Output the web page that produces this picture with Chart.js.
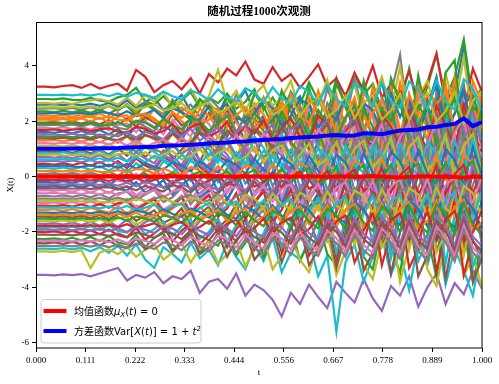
<!DOCTYPE html>
<html><head><meta charset="utf-8">
<script src="https://cdn.jsdelivr.net/npm/chart.js@4/dist/chart.umd.min.js"></script>
<style>html,body{margin:0;padding:0;background:#fff}canvas{display:block}</style>
</head><body>
<canvas id="c" width="499" height="384"></canvas>
<script>
const titleText = '随机过程1000次观测';
const xTitle = 't';
const yTitle = 'X(t)';
const xTickVals = [0, 0.1111, 0.2222, 0.3333, 0.4444, 0.5556, 0.6667, 0.7778, 0.8889, 1.0];
const xTickLabels = ['0.000','0.111','0.222','0.333','0.444','0.556','0.667','0.778','0.889','1.000'];
const yTickVals = [-6, -4, -2, 0, 2, 4];
const yTickLabels = ['-6','-4','-2','0','2','4'];
const tValues = [0,0.0204,0.0408,0.0612,0.0816,0.1020,0.1224,0.1429,0.1633,0.1837,
0.2041,0.2245,0.2449,0.2653,0.2857,0.3061,0.3265,0.3469,0.3673,0.3878,
0.4082,0.4286,0.4490,0.4694,0.4898,0.5102,0.5306,0.5510,0.5714,0.5918,
0.6122,0.6327,0.6531,0.6735,0.6939,0.7143,0.7347,0.7551,0.7755,0.7959,
0.8163,0.8367,0.8571,0.8776,0.8980,0.9184,0.9388,0.9592,0.9796,1.0];

const meanValues = [0.00,0.00,0.00,0.00,0.00,-0.01,0.00,0.00,0.01,0.00,
0.01,0.00,-0.01,0.01,0.00,0.01,0.00,-0.01,0.01,0.02,
0.01,0.00,-0.01,0.01,0.00,-0.01,0.00,0.01,-0.01,0.00,
0.01,0.00,-0.01,0.00,0.01,-0.01,0.00,0.02,0.00,-0.02,
-0.03,-0.01,0.00,0.01,-0.01,0.00,-0.02,-0.04,0.00,-0.02];
const varValues = [1.00,1.00,1.00,1.00,1.01,1.01,1.01,1.02,1.02,1.03,
1.05,1.06,1.07,1.08,1.11,1.12,1.13,1.15,1.17,1.19,
1.21,1.23,1.26,1.27,1.30,1.32,1.34,1.36,1.39,1.41,
1.43,1.45,1.48,1.50,1.47,1.48,1.56,1.55,1.53,1.60,
1.66,1.68,1.70,1.78,1.80,1.86,1.90,2.10,1.82,1.97];

const path00=[2.60,2.60,2.61,2.58,2.62,2.57,2.63,2.55,2.66,2.52,2.75,2.48,2.70,2.85,2.40,2.62,2.95,2.35,2.78,2.50,2.20,2.95,2.65,3.10,2.30,2.85,2.10,3.05,2.55,2.90,2.00,2.75,3.30,2.25,2.95,1.80,3.10,2.60,3.40,2.05,2.90,1.85,3.35,2.50,3.60,1.70,3.00,4.70,2.40,2.20];
const path01=[-1.20,-1.21,-1.18,-1.24,-1.17,-1.26,-1.13,-1.22,-1.30,-1.08,-1.35,-1.05,-1.28,-0.98,-1.42,-1.15,-0.95,-1.50,-1.10,-1.38,-0.85,-1.55,-1.20,-0.75,-1.45,-1.00,-1.70,-0.90,-1.30,-0.60,-1.65,-1.05,-0.55,-1.80,-1.25,-0.70,-1.95,-1.10,-0.40,-1.50,-2.00,-0.80,-1.40,-0.30,-2.20,-1.00,-0.50,-1.85,-0.90,-2.30];
const path02=[2.80,2.80,2.79,2.82,2.77,2.76,2.84,2.74,2.70,2.86,2.95,3.20,2.72,2.60,2.90,2.55,2.75,3.05,2.50,2.85,2.65,3.00,2.45,2.70,3.15,2.40,2.85,2.30,3.05,2.60,3.40,2.75,2.20,3.55,2.50,3.70,2.95,3.35,2.40,3.10,2.60,3.90,2.30,3.25,4.40,2.80,3.60,4.95,2.70,3.20];
const path03=[3.25,3.25,3.22,3.27,3.30,3.20,3.34,3.18,3.28,3.35,3.10,3.85,3.60,3.05,3.30,3.45,3.15,3.55,3.00,3.70,3.40,3.90,3.65,4.15,3.50,3.35,3.95,3.45,3.70,3.20,3.60,4.05,3.25,3.55,2.90,3.75,3.10,4.00,2.85,3.35,2.95,3.80,2.70,3.40,4.45,2.60,3.30,2.40,3.90,3.05];
const path04=[-3.55,-3.55,-3.57,-3.53,-3.56,-3.52,-3.60,-3.50,-3.40,-3.30,-3.75,-3.55,-3.65,-3.45,-3.85,-3.60,-3.70,-3.40,-4.20,-3.80,-3.70,-4.05,-3.50,-4.30,-3.90,-4.10,-4.45,-5.05,-4.20,-4.60,-3.90,-4.35,-4.75,-3.80,-4.20,-4.55,-3.70,-4.40,-4.85,-3.95,-4.30,-3.60,-4.70,-4.00,-3.50,-4.60,-3.85,-4.25,-3.40,-4.05];
const path05=[0.90,0.91,0.88,0.93,0.86,0.95,0.84,0.97,0.80,1.02,0.75,1.10,0.70,1.05,1.20,0.62,0.98,1.30,0.55,1.15,0.80,1.40,0.45,1.05,0.60,1.50,0.35,1.20,0.85,1.60,0.25,1.35,0.70,1.75,0.10,1.10,1.80,0.40,1.25,-0.05,1.60,0.55,1.95,0.20,1.40,2.10,0.00,1.00,2.30,0.30];
const path06=[-0.50,-0.49,-0.52,-0.47,-0.55,-0.45,-0.58,-0.44,-0.60,-0.40,-0.35,-0.68,-0.45,-0.30,-0.75,-0.55,-0.25,-0.85,-0.40,-0.20,-0.90,-0.60,-0.10,-0.75,-1.05,-0.35,0.05,-0.80,-0.50,-1.15,0.10,-0.65,-1.20,-0.20,0.25,-0.95,-0.45,-1.30,0.30,-0.70,-1.40,-0.15,0.40,-1.10,-0.60,0.55,-1.50,-0.30,0.45,-0.90];
const path07=[2.45,2.45,2.47,2.43,2.48,2.41,2.50,2.40,2.55,2.38,2.62,2.30,2.70,2.45,2.25,2.78,2.35,2.60,2.15,2.85,2.50,2.20,2.95,2.40,2.05,2.75,2.55,1.95,3.05,2.30,2.65,1.90,3.15,2.45,2.00,3.55,2.20,2.80,1.75,3.00,4.40,1.70,3.25,2.60,1.55,2.95,3.40,2.10,1.60,2.75];
const path08=[2.65,2.66,2.63,2.68,2.62,2.70,2.75,2.80,2.72,2.60,2.85,2.55,2.95,2.70,3.05,2.50,2.80,3.15,2.60,2.90,3.85,2.65,3.10,2.40,2.95,3.30,2.55,2.85,3.45,2.30,3.00,2.60,3.50,2.20,2.85,3.30,2.10,2.75,3.60,2.40,3.95,2.05,2.90,3.45,2.20,3.70,2.50,4.30,1.90,3.10];
const path09=[-2.60,-2.60,-2.62,-2.58,-2.63,-2.57,-2.70,-2.55,-2.75,-2.50,-2.85,-2.45,-3.00,-3.30,-2.55,-2.80,-3.10,-2.40,-2.95,-2.65,-3.20,-2.35,-2.90,-3.35,-2.50,-3.05,-2.20,-3.45,-2.75,-3.00,-2.30,-3.60,-2.85,-5.60,-3.10,-2.45,-3.80,-2.90,-2.15,-3.55,-2.70,-4.10,-2.35,-3.20,-1.90,-3.90,-2.60,-3.40,-4.30,-2.50];
const path10=[1.60,1.61,1.58,1.63,1.56,1.65,1.54,1.68,1.52,1.72,1.45,1.80,1.50,1.40,1.85,1.62,1.30,1.95,1.55,1.25,1.90,1.45,2.10,1.20,1.75,2.20,1.35,1.05,2.05,1.60,2.30,1.10,1.85,2.45,0.95,1.70,2.60,1.25,0.85,2.15,1.50,2.75,0.70,1.95,2.90,1.20,0.60,2.50,3.10,1.40];
const path11=[2.20,2.21,2.18,2.23,2.16,2.25,2.14,2.28,2.10,2.30,2.05,2.38,2.00,2.45,2.15,1.90,2.50,2.25,1.85,2.60,2.10,1.80,2.70,2.35,1.70,2.85,2.05,1.60,2.95,2.40,1.75,3.10,2.20,1.50,2.90,2.55,1.40,3.25,2.00,1.65,3.40,2.30,1.30,3.00,2.70,1.20,3.55,1.90,2.60,1.35];
const path12=[-2.25,-2.26,-2.23,-2.28,-2.21,-2.30,-2.18,-2.33,-2.15,-2.38,-2.45,-2.10,-2.55,-2.20,-2.05,-2.65,-2.35,-2.00,-2.75,-2.30,-2.50,-1.85,-2.85,-2.40,-1.80,-2.95,-2.15,-2.60,-1.70,-3.05,-2.35,-1.60,-2.80,-3.20,-2.00,-1.50,-2.90,-3.35,-1.75,-2.45,-3.50,-1.40,-2.70,-2.10,-3.65,-1.30,-2.95,-1.90,-3.80,-2.40];
const path13=[0.45,0.46,0.43,0.48,0.41,0.50,0.39,0.53,0.36,0.56,0.30,0.65,0.40,0.25,0.72,0.50,0.18,0.80,0.35,0.10,0.75,0.55,0.00,0.90,0.30,-0.05,1.00,0.45,0.15,1.10,-0.10,0.60,1.20,0.20,-0.20,0.85,1.30,0.05,-0.35,1.05,0.50,-0.40,1.45,0.25,-0.55,1.20,0.70,-0.60,1.60,0.35];
const path14=[-1.70,-1.71,-1.68,-1.73,-1.66,-1.75,-1.64,-1.78,-1.62,-1.82,-1.55,-1.90,-1.65,-1.48,-1.95,-1.75,-1.40,-2.05,-1.60,-1.35,-2.10,-1.80,-1.25,-2.20,-1.55,-1.20,-2.30,-1.85,-1.10,-2.15,-1.50,-2.45,-1.05,-1.90,-2.55,-1.30,-0.95,-2.40,-1.70,-2.70,-1.00,-2.20,-0.85,-2.80,-1.45,-0.70,-2.95,-1.60,-0.60,-2.50];
const path15=[1.95,1.95,1.97,1.93,1.98,1.91,2.00,1.89,2.03,1.86,2.10,1.80,2.15,1.95,1.75,2.25,1.85,2.05,1.65,2.30,1.90,2.40,1.60,2.15,2.50,1.75,2.05,1.50,2.60,1.85,2.70,1.45,2.25,2.85,1.60,2.00,1.35,2.95,2.40,1.50,3.05,1.75,1.25,2.80,3.20,1.40,2.30,3.30,1.15,2.55];
const path16=[-0.95,-0.96,-0.93,-0.98,-0.92,-1.00,-0.90,-1.03,-0.87,-1.06,-0.80,-1.12,-0.95,-0.75,-1.20,-1.00,-0.68,-1.28,-0.85,-0.60,-1.35,-0.75,-1.10,-0.50,-1.45,-0.90,-0.40,-1.55,-1.05,-0.35,-1.60,-0.70,-1.15,-0.25,-1.75,-0.85,-0.15,-1.40,-1.90,-0.45,-0.10,-1.65,-2.00,-0.55,0.00,-1.30,-2.10,-0.35,-1.80,0.10];
const path17=[0.10,0.10,0.12,0.08,0.13,0.06,0.15,0.04,0.18,0.02,0.25,-0.05,0.20,0.32,-0.10,0.15,0.38,-0.15,0.05,0.45,-0.20,0.30,0.50,-0.25,0.10,0.60,-0.35,0.25,0.70,-0.40,0.05,0.75,-0.50,0.35,0.85,-0.55,0.15,0.95,-0.65,0.40,1.00,-0.70,0.20,1.10,-0.80,0.50,-0.85,1.20,0.25,-0.95];
const path18=[-2.70,-2.70,-2.72,-2.68,-2.73,-2.66,-3.30,-2.75,-2.62,-2.80,-2.55,-2.90,-2.65,-2.45,-3.00,-2.75,-2.40,-3.10,-2.60,-2.35,-3.15,-2.80,-2.30,-3.25,-2.55,-2.20,-3.35,-2.85,-2.15,-3.00,-3.45,-2.40,-2.05,-3.55,-2.70,-1.95,-3.20,-3.70,-2.30,-1.85,-3.80,-2.50,-1.70,-3.35,-3.95,-2.20,-1.60,-3.60,-2.85,-4.00];
const path19=[0.30,0.31,0.28,0.33,0.26,0.35,0.24,0.38,0.21,0.41,0.15,0.48,0.25,0.10,0.55,0.35,0.02,0.62,0.20,-0.05,0.70,0.40,-0.12,0.75,0.15,-0.20,0.85,0.45,-0.25,0.95,0.10,-0.35,1.05,0.50,-0.45,0.20,1.15,-0.55,0.60,1.25,-0.60,0.35,1.35,-0.70,0.05,1.45,-0.80,0.70,1.55,-0.85];
const path20=[-0.20,-0.19,-0.22,-0.17,-0.23,-0.15,-0.26,-0.13,-0.29,-0.10,-0.05,-0.35,-0.15,0.00,-0.42,-0.25,0.08,-0.50,-0.10,0.15,-0.55,-0.30,0.22,-0.65,-0.05,0.30,-0.75,-0.40,0.40,-0.85,-0.15,0.50,-0.95,-0.45,0.60,-1.05,0.00,0.70,-1.15,-0.35,0.80,-1.25,0.10,0.90,-1.35,-0.50,1.00,-1.45,0.20,-1.10];
const path21=[1.30,1.30,1.32,1.28,1.33,1.26,1.35,1.24,1.38,1.21,1.45,1.15,1.50,1.35,1.08,1.55,1.20,1.00,1.62,1.40,0.95,1.70,1.25,0.85,1.80,1.50,0.75,1.90,1.15,0.65,2.00,1.40,0.55,2.10,1.05,0.45,2.20,1.60,0.35,2.30,1.20,0.25,2.40,1.75,0.15,2.50,1.00,0.05,2.60,1.50];
const path22=[2.35,2.35,2.33,2.37,2.32,2.39,2.30,2.42,2.27,2.45,2.55,2.20,2.62,2.40,2.12,2.70,2.30,2.05,2.80,2.45,2.00,2.90,2.25,1.90,3.00,2.55,1.80,3.10,2.35,1.70,3.20,2.15,1.65,3.35,2.60,1.55,3.45,2.25,1.45,3.55,2.70,1.35,3.65,2.05,1.25,3.75,4.20,1.15,2.50,2.20];
const path23=[-2.00,-2.01,-1.98,-2.03,-1.96,-2.05,-1.94,-2.08,-1.91,-2.12,-2.20,-1.85,-2.28,-2.05,-1.78,-2.35,-1.95,-1.70,-2.45,-2.10,-1.65,-2.55,-1.90,-1.55,-2.65,-2.20,-1.45,-2.75,-1.85,-1.35,-2.85,-2.30,-1.25,-2.95,-1.70,-3.10,-2.40,-1.15,-3.20,-2.00,-1.05,-3.30,-2.60,-0.95,-3.45,-1.80,-0.85,-3.55,-2.30,-2.95];
const path24=[0.70,0.71,0.68,0.73,0.66,0.75,0.64,0.78,0.61,0.81,0.55,0.88,0.65,0.48,0.95,0.75,0.40,1.02,0.60,0.32,1.10,0.80,0.25,1.18,0.50,0.18,1.28,0.90,0.10,1.35,0.55,0.00,1.45,0.95,-0.10,1.55,0.45,-0.20,1.65,1.00,-0.30,0.60,1.75,-0.40,1.10,1.85,-0.50,0.40,1.95,-0.60];
const path25=[-1.45,-1.45,-1.47,-1.43,-1.48,-1.41,-1.50,-1.39,-1.53,-1.36,-1.30,-1.60,-1.40,-1.22,-1.68,-1.50,-1.15,-1.75,-1.35,-1.08,-1.85,-1.55,-1.00,-1.95,-1.30,-0.92,-2.05,-1.60,-0.85,-2.15,-1.25,-0.75,-2.25,-1.70,-0.65,-2.35,-1.20,-0.55,-2.45,-1.85,-0.45,-2.55,-1.10,-0.35,-2.65,-1.95,-0.25,-2.75,-1.00,-2.20];
const path26=[1.75,1.76,1.73,1.78,1.71,1.80,1.69,1.83,1.66,1.86,1.92,1.60,1.98,1.80,1.52,2.05,1.70,1.45,2.15,1.90,1.40,2.25,1.65,1.30,2.35,1.95,1.20,2.45,1.55,1.10,2.55,2.00,1.00,2.65,1.45,0.90,2.75,2.10,0.80,2.85,1.35,0.70,2.95,2.20,0.60,3.05,1.25,0.50,3.15,2.30];
const path27=[-0.70,-0.70,-0.72,-0.68,-0.73,-0.66,-0.75,-0.64,-0.78,-0.61,-0.55,-0.85,-0.65,-0.48,-0.92,-0.75,-0.40,-1.00,-0.60,-0.32,-1.08,-0.80,-0.25,-1.15,-0.55,-0.18,-1.25,-0.90,-0.10,-1.35,-0.60,0.00,-1.45,-0.95,0.10,-1.55,-0.50,0.20,-1.65,-1.00,0.30,-1.75,-0.40,0.40,-1.85,-1.10,0.50,-1.95,-0.30,0.60];
const path28=[1.10,1.10,1.12,1.08,1.13,1.06,1.15,1.04,1.18,1.01,0.95,1.25,1.05,0.88,1.32,1.15,0.80,1.40,1.00,0.72,1.48,1.20,0.65,1.55,0.95,0.58,1.65,1.30,0.50,1.75,0.90,0.40,1.85,1.35,0.30,1.95,0.85,0.20,2.05,1.40,0.10,2.15,0.80,0.00,2.25,1.50,-0.10,2.35,0.75,-0.20];
const path29=[-1.85,-1.86,-1.83,-1.88,-1.81,-1.90,-1.79,-1.93,-1.76,-1.96,-2.02,-1.70,-2.08,-1.90,-1.62,-2.15,-1.80,-1.55,-2.25,-2.00,-1.50,-2.35,-1.75,-1.40,-2.45,-2.05,-1.30,-2.55,-1.65,-1.20,-2.65,-2.10,-1.10,-2.75,-1.55,-1.00,-2.85,-2.20,-0.90,-2.95,-1.45,-0.80,-3.05,-2.30,-0.70,-3.15,-1.35,-0.60,-3.25,-2.40];
const path30=[-0.35,-0.35,-0.33,-0.37,-0.32,-0.39,-0.30,-0.42,-0.27,-0.45,-0.50,-0.20,-0.58,-0.40,-0.12,-0.65,-0.30,-0.05,-0.75,-0.50,0.00,-0.85,-0.25,0.10,-0.95,-0.55,0.18,-1.05,-0.20,0.25,-1.15,-0.60,0.35,-1.25,-0.15,0.45,-1.35,-0.70,0.55,-1.45,-0.10,0.65,-1.55,-0.80,0.75,-1.65,-0.05,0.85,-1.75,-0.90];
const path31=[2.05,2.06,2.03,2.08,2.01,2.10,1.99,2.13,1.96,2.16,2.22,1.90,2.28,2.10,1.82,2.35,2.00,1.75,2.45,2.20,1.70,2.55,1.95,1.60,2.65,2.25,1.50,2.75,1.85,1.40,2.85,2.30,1.30,2.95,1.75,1.20,3.05,2.40,1.10,3.15,1.65,1.00,3.25,2.50,0.90,3.35,1.55,0.80,3.45,2.60];
const path32=[1.45,1.45,1.43,1.47,1.42,1.49,1.40,1.52,1.37,1.55,1.60,1.30,1.68,1.50,1.22,1.75,1.40,1.15,1.85,1.60,1.10,1.95,1.35,1.00,2.05,1.65,0.90,2.15,1.25,0.80,2.25,1.70,0.70,2.35,1.15,0.60,2.45,1.80,0.50,2.55,1.05,0.40,2.65,1.90,0.30,2.75,0.95,0.20,2.85,2.00];
const path33=[-1.05,-1.05,-1.07,-1.03,-1.08,-1.01,-1.10,-0.99,-1.13,-0.96,-0.90,-1.20,-1.00,-0.82,-1.28,-1.10,-0.75,-1.35,-0.95,-0.68,-1.45,-1.15,-0.60,-1.55,-0.90,-0.52,-1.65,-1.20,-0.45,-1.75,-0.85,-0.35,-1.85,-1.30,-0.25,-1.95,-0.80,-0.15,-2.05,-1.40,-0.05,-2.15,-0.70,0.05,-2.25,-1.50,0.15,-2.35,-0.60,0.25];
const path34=[0.55,0.55,0.57,0.53,0.58,0.51,0.60,0.49,0.63,0.46,0.40,0.70,0.50,0.33,0.78,0.60,0.25,0.85,0.45,0.18,0.92,0.65,0.10,1.00,0.40,0.02,1.10,0.75,-0.05,1.20,0.35,-0.15,1.30,0.80,-0.25,1.40,0.30,-0.35,1.50,0.85,-0.45,1.60,0.25,-0.55,1.70,0.95,-0.65,1.80,0.20,-0.75];
const path35=[-2.40,-2.41,-2.38,-2.43,-2.36,-2.45,-2.34,-2.48,-2.31,-2.51,-2.57,-2.25,-2.63,-2.45,-2.17,-2.70,-2.35,-2.10,-2.80,-2.55,-2.05,-2.90,-2.30,-1.95,-3.00,-2.60,-1.85,-3.10,-2.20,-1.75,-3.20,-2.65,-1.65,-3.30,-2.10,-1.55,-3.40,-2.75,-1.45,-3.50,-2.00,-1.35,-3.60,-2.85,-1.25,-3.70,-1.90,-1.15,-3.80,-2.95];
const path36=[-0.05,-0.05,-0.03,-0.07,-0.02,-0.09,0.00,-0.12,0.03,-0.15,-0.20,0.10,-0.28,-0.10,0.18,-0.35,0.00,0.25,-0.45,-0.20,0.30,-0.55,0.05,0.40,-0.65,-0.25,0.48,-0.75,0.10,0.55,-0.85,-0.30,0.65,-0.95,0.15,0.75,-1.05,-0.40,0.85,-1.15,0.20,0.95,-1.25,-0.50,1.05,-1.35,0.25,1.15,-1.45,-0.60];
const path37=[1.85,1.85,1.87,1.83,1.88,1.81,1.90,1.79,1.93,1.76,1.70,2.00,1.80,1.63,2.08,1.90,1.55,2.15,1.75,1.48,2.25,1.95,1.40,2.35,1.70,1.30,2.45,2.05,1.20,2.55,1.65,1.10,2.65,2.15,1.00,2.75,1.60,0.90,2.85,2.25,0.80,2.95,1.55,0.70,3.05,2.35,0.60,3.15,1.50,0.50];
const path38=[-1.60,-1.60,-1.62,-1.58,-1.63,-1.56,-1.65,-1.54,-1.68,-1.51,-1.45,-1.75,-1.55,-1.38,-1.82,-1.65,-1.30,-1.90,-1.50,-1.22,-1.98,-1.70,-1.15,-2.05,-1.45,-1.08,-2.15,-1.80,-1.00,-2.25,-1.40,-0.90,-2.35,-1.85,-0.80,-2.45,-1.35,-0.70,-2.55,-1.95,-0.60,-2.65,-1.30,-0.50,-2.75,-2.05,-0.40,-2.85,-1.25,-0.30];
const path39=[0.85,0.86,0.83,0.88,0.81,0.90,0.79,0.93,0.76,0.96,1.02,0.70,1.08,0.90,0.62,1.15,0.80,0.55,1.25,1.00,0.50,1.35,0.75,0.40,1.45,1.05,0.30,1.55,0.65,0.20,1.65,1.10,0.10,1.75,0.55,0.00,1.85,1.20,-0.10,1.95,0.45,-0.20,2.05,1.30,-0.30,2.15,0.35,-0.40,2.25,1.40];
const path40=[2.28,2.28,2.30,2.26,2.27,2.31,2.24,2.33,2.29,2.20,2.36,2.18,2.25,2.42,2.10,2.47,2.32,2.15,2.05,2.55,2.40,2.62,2.12,1.98,2.30,2.70,2.45,1.85,2.20,2.80,2.58,1.75,2.35,2.05,2.90,1.95,2.65,2.40,1.60,3.00,2.15,2.85,1.55,2.50,3.35,1.80,2.25,3.10,1.45,2.70];
const path41=[2.12,2.12,2.11,2.14,2.10,2.15,2.16,2.08,2.19,2.05,2.02,2.22,2.27,2.00,1.95,2.30,2.12,2.38,1.90,2.05,2.45,1.82,2.22,2.50,2.00,1.75,2.35,2.60,1.70,2.15,1.95,2.70,2.40,1.60,2.10,2.85,1.55,2.30,2.75,1.90,1.45,2.95,2.20,1.35,2.60,3.05,1.70,2.40,1.25,2.90];
const path42=[1.90,1.91,1.89,1.92,1.93,1.87,1.95,1.86,1.84,1.97,1.80,2.02,1.95,1.75,2.08,1.85,1.70,2.12,2.00,1.65,1.92,2.20,1.58,1.80,2.28,1.95,1.52,2.35,1.70,2.10,1.45,2.40,1.90,1.35,2.15,2.55,1.50,1.30,2.45,2.00,2.70,1.25,1.85,2.60,1.15,2.25,2.80,1.40,1.05,2.50];
const path43=[1.68,1.68,1.70,1.66,1.69,1.72,1.64,1.71,1.75,1.62,1.58,1.80,1.72,1.55,1.65,1.88,1.50,1.78,1.92,1.45,1.62,1.98,1.40,1.85,1.55,2.05,1.32,1.75,2.12,1.45,1.28,2.20,1.90,1.20,1.60,2.30,1.45,1.10,2.25,1.80,1.05,2.40,1.65,0.95,2.55,1.85,1.00,2.60,1.40,0.90];
const path44=[1.52,1.53,1.51,1.50,1.55,1.49,1.57,1.48,1.54,1.45,1.60,1.40,1.62,1.50,1.35,1.68,1.45,1.72,1.30,1.55,1.78,1.28,1.60,1.85,1.22,1.45,1.90,1.15,1.70,1.95,1.10,1.55,2.05,1.00,1.75,2.15,1.25,0.95,2.00,1.60,0.85,2.20,1.40,0.80,2.30,1.65,0.70,1.95,2.35,1.05];
const path45=[1.38,1.38,1.37,1.40,1.36,1.41,1.34,1.43,1.35,1.32,1.46,1.28,1.50,1.38,1.25,1.55,1.30,1.20,1.60,1.42,1.15,1.65,1.35,1.10,1.70,1.48,1.05,1.78,1.25,1.85,1.00,1.50,1.90,0.95,1.35,1.95,0.85,1.60,2.05,0.80,1.45,2.15,0.75,1.20,2.20,0.65,1.70,2.30,0.60,1.30];
const path46=[1.20,1.21,1.19,1.22,1.18,1.23,1.17,1.25,1.16,1.28,1.12,1.30,1.08,1.20,1.35,1.05,1.40,1.15,1.00,1.45,1.25,0.95,1.50,1.10,0.90,1.55,1.30,0.82,1.62,1.05,0.78,1.70,1.35,0.70,1.55,1.80,0.65,1.20,1.90,0.60,1.40,1.95,0.55,1.10,2.05,0.45,1.60,2.10,0.40,1.25];
const path47=[1.00,1.00,0.99,1.02,0.98,1.03,0.97,0.95,1.05,0.93,1.08,0.90,1.12,0.98,0.85,1.15,0.82,1.05,1.20,0.78,1.00,1.25,0.75,1.10,1.30,0.70,0.95,1.38,0.65,1.20,1.42,0.60,0.90,1.50,0.55,1.25,1.55,0.50,0.85,1.62,0.45,1.30,1.70,0.40,0.95,1.75,0.35,1.45,1.80,0.30];
const path48=[0.78,0.78,0.80,0.77,0.76,0.81,0.74,0.83,0.72,0.80,0.85,0.70,0.88,0.65,0.80,0.92,0.62,0.75,0.98,0.58,0.85,1.02,0.55,0.70,1.08,0.50,0.95,1.12,0.45,0.80,1.18,0.40,0.65,1.25,0.35,1.00,1.30,0.30,0.70,1.38,0.25,1.05,1.42,0.20,0.60,1.50,0.15,1.10,1.55,0.10];
const path49=[0.62,0.62,0.61,0.64,0.60,0.65,0.58,0.66,0.57,0.68,0.55,0.70,0.52,0.75,0.60,0.48,0.78,0.55,0.45,0.82,0.65,0.40,0.88,0.50,0.35,0.92,0.70,0.30,0.98,0.45,0.25,1.02,0.75,0.20,1.08,0.40,0.15,1.12,0.80,0.10,1.20,0.35,0.05,1.25,0.85,0.00,1.30,0.30,1.35,-0.05];
const path50=[0.38,0.39,0.37,0.40,0.36,0.35,0.41,0.33,0.43,0.31,0.45,0.28,0.48,0.35,0.25,0.52,0.40,0.20,0.55,0.30,0.15,0.60,0.42,0.10,0.65,0.25,0.05,0.70,0.45,0.00,0.75,0.20,-0.05,0.80,0.50,-0.10,0.85,0.15,-0.15,0.90,0.55,-0.20,0.95,0.10,-0.25,1.00,0.60,-0.30,1.05,0.05];
const path51=[0.20,0.20,0.21,0.19,0.22,0.18,0.23,0.17,0.16,0.24,0.14,0.27,0.25,0.10,0.30,0.15,0.06,0.35,0.22,0.02,0.38,0.10,-0.02,0.42,0.28,-0.06,0.46,0.05,-0.10,0.50,0.30,-0.15,0.55,0.00,-0.20,0.60,0.35,-0.25,0.65,-0.05,-0.30,0.70,0.40,-0.35,0.75,-0.10,-0.40,0.80,0.45,-0.45];
const path52=[0.02,0.02,0.03,0.01,0.04,0.00,0.05,-0.01,0.06,-0.03,0.08,-0.05,0.10,-0.08,0.02,0.13,-0.10,0.05,0.17,-0.13,-0.02,0.20,-0.17,0.08,0.24,-0.20,-0.05,0.28,-0.24,0.12,0.32,-0.28,-0.08,0.36,-0.32,0.15,0.40,-0.36,-0.10,0.44,-0.40,0.18,0.48,-0.44,-0.12,0.52,-0.48,0.20,0.56,-0.52];
const path53=[-0.12,-0.12,-0.13,-0.11,-0.14,-0.10,-0.15,-0.09,-0.16,-0.08,-0.18,-0.05,-0.20,-0.12,-0.02,-0.24,-0.08,0.02,-0.28,-0.15,0.05,-0.32,-0.05,0.10,-0.36,-0.20,0.14,-0.40,-0.02,0.18,-0.44,-0.25,0.22,-0.48,0.00,0.26,-0.52,-0.30,0.30,-0.56,0.05,0.34,-0.60,-0.35,0.38,-0.64,0.10,0.42,-0.68,-0.40];
const path54=[-0.28,-0.28,-0.27,-0.29,-0.26,-0.30,-0.25,-0.31,-0.24,-0.33,-0.22,-0.35,-0.18,-0.30,-0.40,-0.15,-0.25,-0.44,-0.12,-0.35,-0.48,-0.08,-0.20,-0.52,-0.05,-0.38,-0.56,0.00,-0.22,-0.60,0.05,-0.40,-0.64,0.10,-0.18,-0.68,0.15,-0.45,-0.72,0.20,-0.15,-0.76,0.25,-0.50,-0.80,0.30,-0.12,-0.84,0.35,-0.55];
const path55=[-0.42,-0.42,-0.43,-0.41,-0.44,-0.40,-0.45,-0.39,-0.38,-0.47,-0.36,-0.50,-0.33,-0.45,-0.54,-0.30,-0.40,-0.58,-0.26,-0.50,-0.62,-0.22,-0.35,-0.66,-0.18,-0.55,-0.70,-0.14,-0.30,-0.74,-0.10,-0.60,-0.78,-0.06,-0.25,-0.82,-0.02,-0.65,-0.86,0.02,-0.20,-0.90,0.06,-0.70,-0.94,0.10,-0.15,-0.98,0.14,-0.75];
const path56=[-0.60,-0.61,-0.59,-0.62,-0.58,-0.63,-0.57,-0.65,-0.55,-0.67,-0.52,-0.70,-0.60,-0.48,-0.74,-0.55,-0.44,-0.78,-0.65,-0.40,-0.82,-0.50,-0.36,-0.86,-0.70,-0.32,-0.90,-0.45,-0.28,-0.94,-0.75,-0.24,-0.98,-0.40,-0.20,-1.02,-0.80,-0.16,-1.06,-0.35,-0.12,-1.10,-0.85,-0.08,-1.14,-0.30,-0.04,-1.18,-0.90,0.00];
const path57=[-0.80,-0.80,-0.81,-0.79,-0.82,-0.78,-0.83,-0.77,-0.84,-0.76,-0.86,-0.73,-0.90,-0.80,-0.70,-0.94,-0.75,-0.66,-0.98,-0.85,-0.62,-1.02,-0.70,-0.58,-1.06,-0.90,-0.54,-1.10,-0.65,-0.50,-1.14,-0.95,-0.46,-1.18,-0.60,-0.42,-1.22,-1.00,-0.38,-1.26,-0.55,-0.34,-1.30,-1.05,-0.30,-1.34,-0.50,-0.26,-1.38,-1.10];
const path58=[-0.88,-0.88,-0.87,-0.89,-0.86,-0.90,-0.85,-0.91,-0.93,-0.84,-0.95,-0.81,-0.88,-0.98,-0.78,-0.92,-1.02,-0.74,-0.85,-1.06,-0.70,-0.95,-1.10,-0.66,-0.80,-1.14,-0.62,-1.00,-1.18,-0.58,-0.75,-1.22,-0.54,-1.05,-1.26,-0.50,-0.70,-1.30,-0.46,-1.10,-1.34,-0.42,-0.65,-1.38,-0.38,-1.15,-1.42,-0.34,-0.60,-1.46];
const path59=[-1.12,-1.12,-1.11,-1.13,-1.10,-1.14,-1.09,-1.15,-1.08,-1.17,-1.06,-1.20,-1.12,-1.02,-1.24,-1.08,-0.98,-1.28,-1.15,-0.94,-1.32,-1.05,-0.90,-1.36,-1.20,-0.86,-1.40,-1.00,-0.82,-1.44,-1.25,-0.78,-1.48,-0.95,-0.74,-1.52,-1.30,-0.70,-1.56,-0.90,-0.66,-1.60,-1.35,-0.62,-1.64,-0.85,-0.58,-1.68,-1.40,-0.54];
const path60=[-1.30,-1.30,-1.31,-1.29,-1.32,-1.28,-1.33,-1.27,-1.35,-1.25,-1.37,-1.22,-1.30,-1.40,-1.19,-1.35,-1.44,-1.15,-1.28,-1.48,-1.12,-1.38,-1.52,-1.08,-1.25,-1.56,-1.04,-1.42,-1.60,-1.00,-1.22,-1.64,-0.96,-1.46,-1.68,-0.92,-1.20,-1.72,-0.88,-1.50,-1.76,-0.84,-1.18,-1.80,-0.80,-1.55,-1.84,-0.76,-1.15,-1.88];
const path61=[-1.38,-1.38,-1.39,-1.37,-1.40,-1.36,-1.41,-1.35,-1.43,-1.33,-1.45,-1.30,-1.48,-1.38,-1.27,-1.52,-1.34,-1.23,-1.56,-1.40,-1.19,-1.60,-1.30,-1.15,-1.64,-1.45,-1.11,-1.68,-1.25,-1.07,-1.72,-1.50,-1.03,-1.76,-1.20,-0.99,-1.80,-1.55,-0.95,-1.84,-1.15,-0.91,-1.88,-1.60,-0.87,-1.92,-1.10,-0.83,-1.96,-1.65];
const path62=[-1.52,-1.52,-1.53,-1.51,-1.54,-1.50,-1.55,-1.49,-1.57,-1.47,-1.60,-1.44,-1.52,-1.63,-1.40,-1.48,-1.67,-1.36,-1.55,-1.71,-1.32,-1.45,-1.75,-1.28,-1.58,-1.79,-1.24,-1.42,-1.83,-1.20,-1.62,-1.87,-1.16,-1.40,-1.91,-1.12,-1.66,-1.95,-1.08,-1.38,-1.99,-1.04,-1.70,-2.03,-1.00,-1.35,-2.07,-0.96,-1.74,-2.11];
const path63=[-1.78,-1.78,-1.77,-1.79,-1.76,-1.80,-1.75,-1.81,-1.74,-1.83,-1.72,-1.86,-1.78,-1.68,-1.90,-1.74,-1.64,-1.94,-1.82,-1.60,-1.98,-1.70,-1.56,-2.02,-1.86,-1.52,-2.06,-1.66,-1.48,-2.10,-1.90,-1.44,-2.14,-1.62,-1.40,-2.18,-1.94,-1.36,-2.22,-1.58,-1.32,-2.26,-1.98,-1.28,-2.30,-1.54,-1.24,-2.34,-2.02,-1.20];
const path64=[-1.92,-1.92,-1.93,-1.91,-1.94,-1.90,-1.95,-1.89,-1.97,-1.87,-2.00,-1.84,-1.92,-2.04,-1.80,-1.88,-2.08,-1.76,-1.96,-2.12,-1.72,-1.86,-2.16,-1.68,-2.00,-2.20,-1.64,-1.84,-2.24,-1.60,-2.04,-2.28,-1.56,-1.82,-2.32,-1.52,-2.08,-2.36,-1.48,-1.80,-2.40,-1.44,-2.12,-2.44,-1.40,-1.78,-2.48,-1.36,-2.16,-2.52];
const path65=[-2.10,-2.10,-2.11,-2.09,-2.12,-2.08,-2.13,-2.07,-2.15,-2.05,-2.18,-2.02,-2.10,-2.22,-1.98,-2.06,-2.26,-1.94,-2.14,-2.30,-1.90,-2.04,-2.34,-1.86,-2.18,-2.38,-1.82,-2.02,-2.42,-1.78,-2.22,-2.46,-1.74,-2.00,-2.50,-1.70,-2.26,-2.54,-1.66,-1.98,-2.58,-1.62,-2.30,-2.62,-1.58,-1.96,-2.66,-1.54,-2.34,-2.70];
const path66=[-2.32,-2.32,-2.33,-2.31,-2.34,-2.30,-2.35,-2.29,-2.37,-2.27,-2.40,-2.24,-2.32,-2.44,-2.20,-2.28,-2.48,-2.16,-2.36,-2.52,-2.12,-2.26,-2.56,-2.08,-2.40,-2.60,-2.04,-2.24,-2.64,-2.00,-2.44,-2.68,-1.96,-2.22,-2.72,-1.92,-2.48,-2.76,-1.88,-2.20,-2.80,-1.84,-2.52,-2.84,-1.80,-2.18,-2.88,-1.76,-2.56,-2.92];
const path67=[-2.50,-2.50,-2.51,-2.49,-2.52,-2.48,-2.53,-2.47,-2.55,-2.45,-2.58,-2.42,-2.50,-2.62,-2.38,-2.46,-2.66,-2.34,-2.54,-2.70,-2.30,-2.44,-2.74,-2.26,-2.58,-2.78,-2.22,-2.42,-2.82,-2.18,-2.62,-2.86,-2.14,-2.40,-2.90,-2.10,-2.66,-2.94,-2.06,-2.38,-2.98,-2.02,-2.70,-3.02,-1.98,-2.36,-3.06,-1.94,-2.74,-3.10];
const path68=[2.50,2.50,2.51,2.49,2.52,2.48,2.53,2.47,2.55,2.45,2.58,2.42,2.50,2.62,2.38,2.46,2.66,2.34,2.54,2.70,2.30,2.44,2.74,2.26,2.58,2.78,2.22,2.42,2.82,2.18,2.62,2.86,2.14,2.40,2.90,2.10,2.66,2.94,2.06,2.38,2.98,2.02,2.70,3.02,1.98,2.36,3.06,1.94,2.74,3.10];
const path69=[2.95,2.95,2.94,2.96,2.93,2.97,2.92,2.98,2.90,3.00,2.88,3.03,2.95,2.84,3.07,2.90,2.80,3.11,2.98,2.76,3.15,2.86,2.72,3.19,3.02,2.68,3.23,2.82,2.64,3.27,3.06,2.60,3.31,2.78,2.56,3.35,3.10,2.52,3.39,2.74,2.48,3.43,3.14,2.44,3.47,2.70,2.40,3.51,3.18,2.36];

const paths = [path00,path01,path02,path03,path04,path05,path06,path07,path08,path09,
path10,path11,path12,path13,path14,path15,path16,path17,path18,path19,
path20,path21,path22,path23,path24,path25,path26,path27,path28,path29,
path30,path31,path32,path33,path34,path35,path36,path37,path38,path39,
path40,path41,path42,path43,path44,path45,path46,path47,path48,path49,
path50,path51,path52,path53,path54,path55,path56,path57,path58,path59,
path60,path61,path62,path63,path64,path65,path66,path67,path68,path69];

const tab10 = ['#1f77b4','#ff7f0e','#2ca02c','#d62728','#9467bd','#8c564b','#e377c2','#7f7f7f','#bcbd22','#17becf'];
const SERIF = '"Liberation Serif", "Times New Roman", "Noto Sans CJK SC", serif';

const toXY = arr => arr.map((v, i) => ({x: tValues[i], y: v}));

const datasets = [];
datasets.push({label: 'var', data: toXY(varValues), borderColor: '#0000ff', borderWidth: 4, pointRadius: 0, order: 0, tension: 0});
datasets.push({label: 'mean', data: toXY(meanValues), borderColor: '#ff0000', borderWidth: 4, pointRadius: 0, order: 0, tension: 0});
paths.forEach((p, i) => {
  datasets.push({label: 'p' + i, data: toXY(p), borderColor: tab10[i % 10], borderWidth: 2.2,
    pointRadius: 0, tension: 0, order: 1 + (paths.length - i)});
});

function drawRich(ctx, x, y, parts) {
  let cx = x;
  parts.forEach(p => {
    ctx.font = p.f;
    ctx.fillText(p.t, cx, y + (p.dy || 0));
    cx += ctx.measureText(p.t).width;
  });
}

const decor = {
  id: 'decor',
  afterDatasetsDraw(chart) {
    const ctx = chart.ctx, a = chart.chartArea;
    ctx.save();
    ctx.strokeStyle = '#000';
    ctx.lineWidth = 1;
    ctx.strokeRect(Math.round(a.left) + 0.5, Math.round(a.top) + 0.5, Math.round(a.right - a.left) - 0.5, Math.round(a.bottom - a.top) - 0.5);
    ctx.fillStyle = '#000';
    ctx.textAlign = 'center';
    ctx.textBaseline = 'middle';
    ctx.font = 'bold 11.5px ' + SERIF;
    ctx.fillText(titleText, (a.left + a.right) / 2, 12.5);
    ctx.font = '9px ' + SERIF;
    ctx.fillText(xTitle, (a.left + a.right) / 2, 373);
    ctx.save();
    ctx.translate(11, (a.top + a.bottom) / 2);
    ctx.rotate(-Math.PI / 2);
    ctx.fillText(yTitle, 0, 0);
    ctx.restore();
    const bx = 41, by = 299.5, bw = 160, bh = 43.5, r = 3;
    ctx.beginPath();
    ctx.moveTo(bx + r, by);
    ctx.arcTo(bx + bw, by, bx + bw, by + bh, r);
    ctx.arcTo(bx + bw, by + bh, bx, by + bh, r);
    ctx.arcTo(bx, by + bh, bx, by, r);
    ctx.arcTo(bx, by, bx + bw, by, r);
    ctx.closePath();
    ctx.fillStyle = 'rgba(255,255,255,0.8)';
    ctx.fill();
    ctx.strokeStyle = '#cccccc';
    ctx.lineWidth = 1;
    ctx.stroke();
    ctx.lineWidth = 4;
    ctx.lineCap = 'butt';
    ctx.strokeStyle = '#ff0000';
    ctx.beginPath(); ctx.moveTo(43.5, 311); ctx.lineTo(66.5, 311); ctx.stroke();
    ctx.strokeStyle = '#0000ff';
    ctx.beginPath(); ctx.moveTo(43.5, 331); ctx.lineTo(66.5, 331); ctx.stroke();
    ctx.fillStyle = '#000';
    ctx.textAlign = 'left';
    ctx.textBaseline = 'alphabetic';
    const cjk = '10px "Noto Sans CJK SC", sans-serif';
    const dj = '10px "DejaVu Sans", sans-serif';
    const dji = 'italic 10px "DejaVu Sans", sans-serif';
    const djs = 'italic 7px "DejaVu Sans", sans-serif';
    const djsu = '7px "DejaVu Sans", sans-serif';
    drawRich(ctx, 74, 315, [
      {t: '均值函数', f: cjk}, {t: 'μ', f: dji}, {t: 'X', f: djs, dy: 2},
      {t: '(', f: dj}, {t: 't', f: dji}, {t: ') = 0', f: dj}
    ]);
    drawRich(ctx, 74, 335, [
      {t: '方差函数', f: cjk}, {t: 'Var[', f: dj}, {t: 'X', f: dji}, {t: '(', f: dj},
      {t: 't', f: dji}, {t: ')] = 1 + ', f: dj}, {t: 't', f: dji}, {t: '2', f: djsu, dy: -4}
    ]);
    ctx.restore();
  }
};

new Chart(document.getElementById('c'), {
  type: 'line',
  data: {datasets},
  options: {
    responsive: false,
    devicePixelRatio: 1,
    animation: false,
    layout: {padding: {top: 22, right: 17, left: 0, bottom: 0}},
    plugins: {legend: {display: false}, title: {display: false}, tooltip: {enabled: false}},
    scales: {
      x: {
        type: 'linear', min: 0, max: 1,
        afterFit: s => { s.height = 36; },
        afterBuildTicks: s => { s.ticks = xTickVals.map(v => ({value: v})); },
        grid: {display: true, drawOnChartArea: false, drawTicks: true, tickLength: 4, color: '#000'},
        border: {display: false},
        ticks: {autoSkip: false, maxRotation: 0, padding: 3, color: '#000',
          font: {family: SERIF, size: 9},
          callback: (v, i) => xTickLabels[i]}
      },
      y: {
        type: 'linear', min: -6.19, max: 5.58,
        afterFit: s => { s.width = 36; },
        afterBuildTicks: s => { s.ticks = yTickVals.map(v => ({value: v})); },
        grid: {display: true, drawOnChartArea: false, drawTicks: true, tickLength: 4, color: '#000'},
        border: {display: false},
        ticks: {padding: 3, color: '#000', font: {family: SERIF, size: 9},
          callback: (v, i) => yTickLabels[i]}
      }
    }
  },
  plugins: [decor]
});
</script>
</body></html>
